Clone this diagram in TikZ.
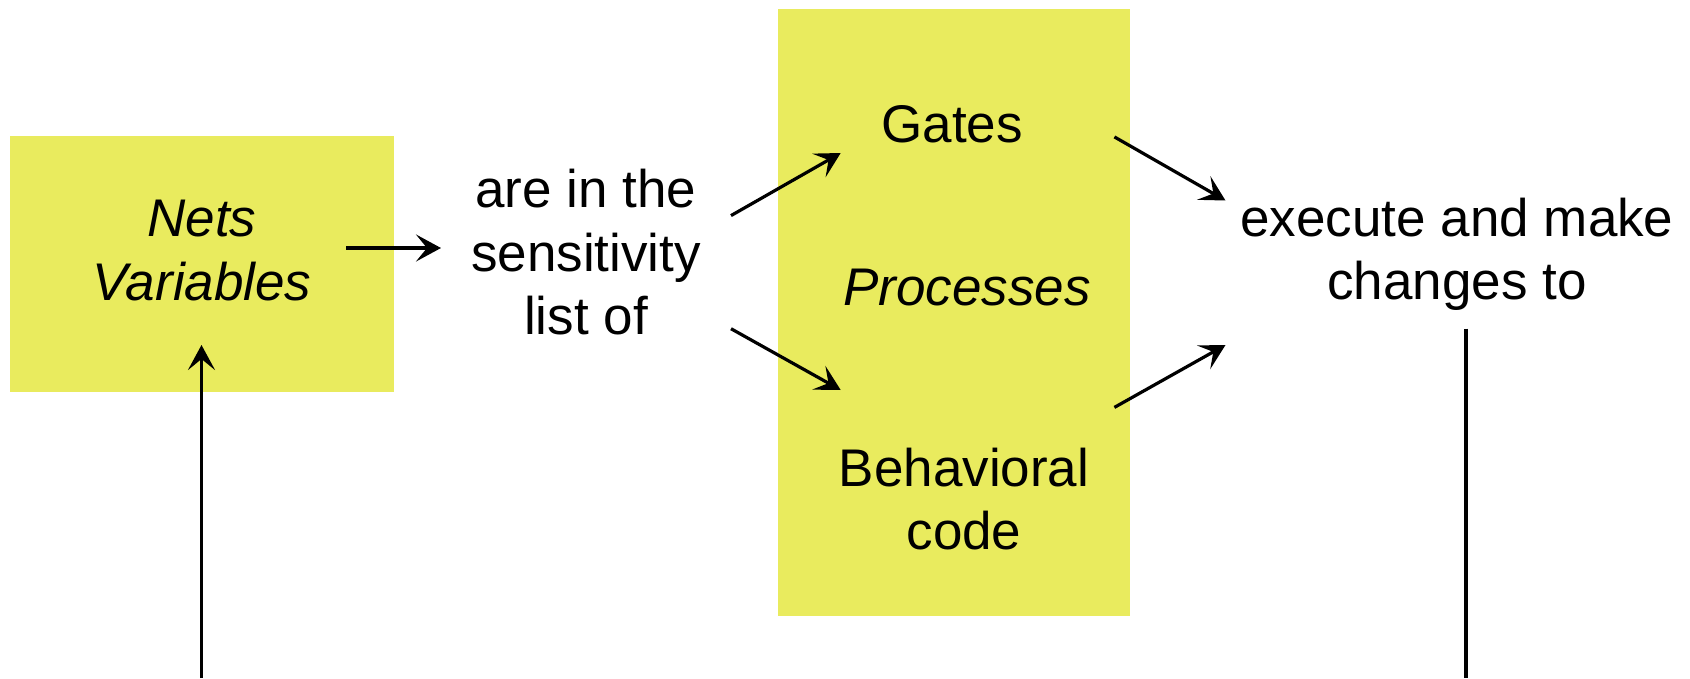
\documentclass[tikz,border=0pt]{standalone}
\usepackage{fontspec}
\setmainfont{Liberation Sans}
\usetikzlibrary{arrows.meta}
\definecolor{hilite}{RGB}{233,235,94}
\begin{document}
\begin{tikzpicture}[x=1pt,y=-1pt,
  lbl/.style={font=\fontsize{53}{63.6}\selectfont, align=center, inner sep=0pt, anchor=base},
  panel/.style={fill=hilite, draw=none, inner sep=0pt},
  arr/.style={line width=3.2pt, -{Stealth[length=25pt,width=27pt,inset=11pt]}},
  wire/.style={line width=3.2pt}]
\useasboundingbox (0,0) rectangle (1690,678);
\fill[white] (0,0) rectangle (1690,678);

% highlighted panels
\node[panel, minimum width=384pt, minimum height=256pt] (vars) at (202,264) {};
\node[panel, minimum width=352pt, minimum height=607pt] (procs) at (954,312) {};

% labels (multi-line labels sit on the baseline of their last line)
\node[lbl] (nets) at (202,300) {\itshape Nets\\\itshape Variables};
\node[lbl] (sens) at (586,334.7) {are in the\\sensitivity\\list of};
\node[lbl] (gates) at (952,142) {Gates};
\node[lbl] (proc) at (967,305) {\itshape Processes};
\node[lbl] (behav) at (964,549.6) {Behavioral\\code};
\node[lbl] (exec) at (1457,299.6) {execute and make\\changes to};

% connector end points
\coordinate (nets-out) at (346,248);
\coordinate (sens-in) at (441,248);
\coordinate (nets-in) at (201.5,345);
\coordinate (loop-l) at (201.5,678);
\coordinate (sens-up) at (731,215.6);
\coordinate (sens-dn) at (731,328.7);
\coordinate (gates-in) at (840.7,153);
\coordinate (behav-in) at (840.7,390);
\coordinate (gates-out) at (1114.4,136.9);
\coordinate (behav-out) at (1114.4,407.4);
\coordinate (exec-in1) at (1225.5,200.5);
\coordinate (exec-in2) at (1225.5,345);
\coordinate (exec-out) at (1466,328.7);
\coordinate (loop-r) at (1466,678);

% connectors
\draw[arr] (nets-out) -- (sens-in);
\draw[arr] (sens-up) -- (gates-in);
\draw[arr] (sens-dn) -- (behav-in);
\draw[arr] (gates-out) -- (exec-in1);
\draw[arr] (behav-out) -- (exec-in2);
\draw[wire] (exec-out) -- (loop-r);
\draw[arr] (loop-l) -- (nets-in);
\end{tikzpicture}
\end{document}
